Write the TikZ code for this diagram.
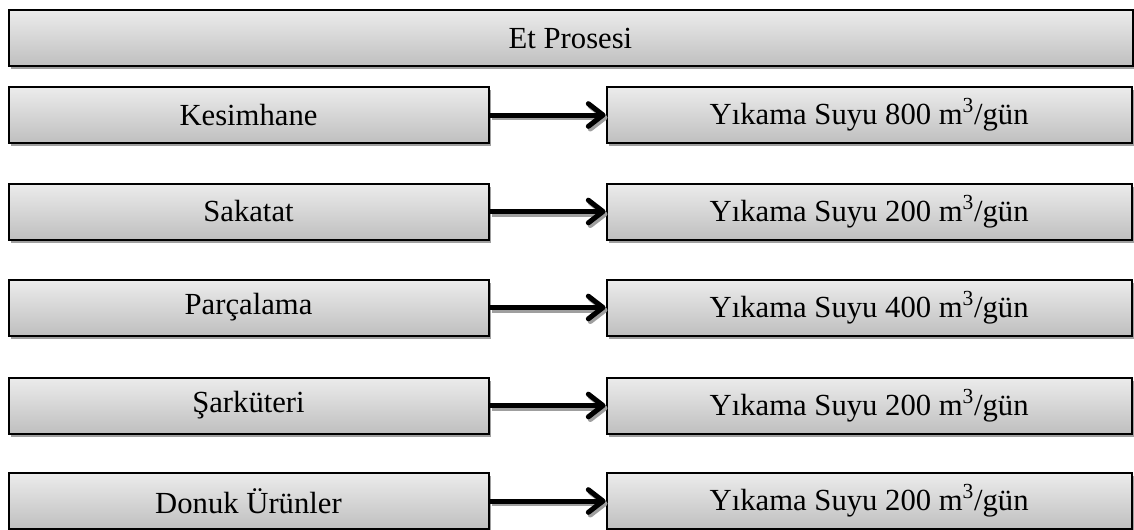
\documentclass[tikz,border=0pt]{standalone}
\usepackage{fontspec}
\setmainfont{Liberation Serif}
\usepackage{tikz}
\usetikzlibrary{positioning, shadows, arrows.meta}

\tikzset{
  procbox/.style={
      draw=black, line width=1.5pt,
      top color=gray!15, bottom color=gray!50,
      drop shadow={shadow xshift=2pt, shadow yshift=-2.5pt, fill=gray!75, opacity=1},
      minimum height=42pt, inner sep=0pt,
      font=\fontsize{23}{26}\selectfont
    },
  leftbox/.style={procbox, minimum width=360pt},
  waterbox/.style={procbox, minimum width=394pt},
  flow/.style={line width=3.75pt, -{Straight Barb[length=11pt, width=17pt, round]}},
  flowshadow/.style={flow, draw=gray!75, transform canvas={shift={(1.5pt,-2pt)}}}
}

\begin{document}
\begin{tikzpicture}[x=0.75pt, y=-0.75pt]
  \useasboundingbox (0,0) rectangle (1134,529);

  % Header
  \node[procbox, minimum width=843pt] (proses) at (570.5,38) {Et Prosesi};

  % Process steps
  \node[leftbox] (kesim)   at (248.5,115)   {Kesimhane};
  \node[leftbox] (sakatat) at (248.5,211.5) {Sakatat};
  \node[leftbox] (parca)   at (248.5,307.5) {Parçalama};
  \node[leftbox] (sarkut)  at (248.5,405.5) {Şarküteri};
  \node[leftbox] (donuk)   at (248.5,501)   {Donuk Ürünler};

  % Washing water
  \node[waterbox, right=87pt of kesim]   (su1) {Yıkama Suyu 800 m\textsuperscript{3}/gün};
  \node[waterbox, right=87pt of sakatat] (su2) {Yıkama Suyu 200 m\textsuperscript{3}/gün};
  \node[waterbox, right=87pt of parca]   (su3) {Yıkama Suyu 400 m\textsuperscript{3}/gün};
  \node[waterbox, right=87pt of sarkut]  (su4) {Yıkama Suyu 200 m\textsuperscript{3}/gün};
  \node[waterbox, right=87pt of donuk]   (su5) {Yıkama Suyu 200 m\textsuperscript{3}/gün};

  % Arrows
  \draw[flowshadow] (kesim.east) -- (su1.west);
  \draw[flow]       (kesim.east) -- (su1.west);
  \draw[flowshadow] (sakatat.east) -- (su2.west);
  \draw[flow]       (sakatat.east) -- (su2.west);
  \draw[flowshadow] (parca.east) -- (su3.west);
  \draw[flow]       (parca.east) -- (su3.west);
  \draw[flowshadow] (sarkut.east) -- (su4.west);
  \draw[flow]       (sarkut.east) -- (su4.west);
  \draw[flowshadow] (donuk.east) -- (su5.west);
  \draw[flow]       (donuk.east) -- (su5.west);

\end{tikzpicture}
\end{document}
